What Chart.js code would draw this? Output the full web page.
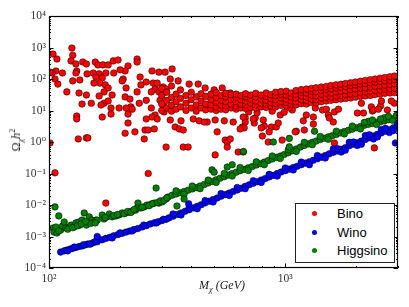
<!DOCTYPE html>
<html>
<head>
<meta charset="utf-8">
<script src="https://cdn.jsdelivr.net/npm/chart.js@4.4.1/dist/chart.umd.min.js"></script>
<style>
  body { margin: 0; background: #fff; }
  #wrap { position: relative; width: 409px; height: 307px; }
  .ttl { position: absolute; font-family: 'Liberation Serif', 'DejaVu Serif', serif; color: #222; white-space: nowrap; line-height: 1; }
  .ttl sub, .ttl sup { font-size: 70%; line-height: 0; }
  #xtitle { left: 222px; top: 285px; font-size: 12px; transform: translate(-50%, -50%); }
  #ytitle { left: 16px; top: 140px; font-size: 12px; transform: translate(-50%, -50%) rotate(-90deg); }
  #legend { position: absolute; left: 295px; top: 203px; width: 98px; height: 58px; border: 1px solid #222; background: #fff;
            font-family: 'Liberation Sans', Arial, sans-serif; font-size: 13px; color: #000; }
  #legend .row { position: absolute; left: 0; height: 16px; line-height: 16px; }
  #legend .dot { position: absolute; left: 16px; top: 5px; width: 5px; height: 5px; border-radius: 50%; }
  #legend .lbl { position: absolute; left: 41px; top: 0; }
</style>
</head>
<body>
<div id="wrap">
  <canvas id="chart"></canvas>
  <div class="ttl" id="xtitle"><i>M<sub>χ</sub></i> <i>(GeV)</i></div>
  <div class="ttl" id="ytitle">Ω<sub><i>χ</i></sub><i>h</i><sup>2</sup></div>
  <div id="legend"></div>
</div>
<script>
// ---- axis ticks ----
const xTickValues = [100, 1000];
const xTickLabels = ['10²', '10³'];
const yTickValues = [1e-4, 1e-3, 1e-2, 1e-1, 1, 10, 100, 1000, 10000];
const yTickLabels = ['10⁻⁴', '10⁻³', '10⁻²', '10⁻¹', '10⁰', '10¹', '10²', '10³', '10⁴'];

const seriesNames = ['Bino', 'Wino', 'Higgsino'];
const seriesColors = ['#ff0000', '#0000ff', '#008000'];

// ---- Bino: scattered points [mass GeV, omega h^2] ----
const binoScatter = [
  [104,620],[108,430],[125,960],[126,570],[124,375],[130,300],[139,345],[144,300],[157,345],[161,280],
  [169,280],[178,280],[187,375],[196,400],[236,430],[236,345],[216,260],[210,180],[200,195],[188,155],
  [174,155],[163,145],[154,155],[145,145],[131,180],[130,155],[114,155],[107,180],[103,155],[101,165],
  [106,100],[109,69],[126,87],[135,93],[158,115],[168,107],[164,74],[155,74],[173,65],[178,52],
  [171,39],[163,29],[185,31],[206,100],[204,87],[212,52],[210,27],[220,23],[236,39],[243,115],
  [245,65],[258,80],[273,180],[292,165],[310,165],[276,74],[287,74],[281,48],[304,56],[313,48],
  [271,39],[292,39],[304,36],[295,21],[307,13],[307,9],[281,7.2],[273,6.2],[287,5.4],[271,12],
  [258,21],[241,17],[222,13],[212,12],[225,11],[216,7.7],[198,12],[183,12],[171,17],[166,15],
  [178,20],[183,7.7],[168,6.2],[151,17],[138,16],[134,36],[144,31],[119,39],[131,6.7],[131,5.4],
  [216,4.0],[210,1.9],[231,2.1],[255,2.4],[263,2.4],[253,1.25],[279,2.6],[258,5.4],[133,1.25],[144,1.35],
  [146,1.35],[313,0.69],[101,0.93],[106,0.105],[174,0.0115],[263,0.1]
];
const binoOutliers = [
  [332,208],[326,100],[352,87],[392,69],[428,69],[458,52],[500,45],[541,52],[585,36],[677,33],
  [326,5.0],[362,4.7],[408,5.4],[432,4.7],[467,4.3],[505,5.0],[342,3.0],[356,2.6],[370,2.4],[515,2.1],
  [557,1.15],[568,1.0],[568,0.69],[370,0.69],[388,0.69],[677,5.8],[677,4.3],[746,5.8],[739,4.0],[658,3.0],
  [807,5.0],[815,3.2],[873,3.0],[916,3.0],[855,2.1],[800,1.55],[847,1.0],[970,1.15],[670,2.8],[644,2.6],
  [454,4.3],[552,4.7],[602,4.3],[732,5.4],[791,2.8],[934,4.0],[952,7.2],[664,6.2],[585,1.25],[632,0.48],
  [664,0.48],[505,0.39],[1113,2.2],[1614,0.93],[2019,8.3],[2142,8.3],[2382,0.65],[2529,13.8],[2705,10.4],[2897,17],
  [2337,9.6],[1071,10.4],[1102,2.1],[1204,2.4],[1192,4.7],[1227,7.2],[1315,6.2],[1315,3.7],[1340,12],[1436,10.4],
  [1493,11],[1521,7.2],[1536,5.8],[1597,4.3],[1614,9],[1679,11],[2100,17],[2313,13],[2360,10.4],[2477,11],
  [2553,20],[2812,20],[1040,12],[700,9],[760,8.5],[880,9.5],[990,8.8]
];
// ---- Bino: dense band, one mass column with its omega values ----
const binoBandMass = [300,315,330,345,360,380,400,420,440,460,485,510,535,560,590,620,650,680,715,750,
  790,830,870,910,960,1010,1060,1110,1170,1230,1290,1350,1420,1490,1560,1640,1720,1800,1890,1980,
  2080,2180,2290,2400,2520,2640,2770,2900];
const binoBandOmega = [
  [10,16,30,50],[12,21,38],[9.5,15,26,60],[11,19,33],[13,24,45],
  [10,17,30],[12,22,38],[9.5,15,27],[12,20,34],[10.5,16,28],
  [11,15,22,33],[10,13,18,26,37],[11,15,21,30],[10.5,14,19,27,35],[12,16,23,32],
  [11,14,19,26,33],[12,16,22,30],[11.5,15,20,27,34],[12.5,17,23,31],[12,15,20,27,35],
  [13,17,23,31],[12.5,16,21,28,36],[14,18,24,32],[13,17,22,30,38],[14.5,19,25,33,40],
  [14,18,23,31,41],[15.5,20,27,36],[15,19,25,33,43],[16.5,22,29,38,46],[16,21,27,36,48],
  [18,23,31,41,50],[17.5,22,29,39,53],[19,25,33,44,56],[20,26,35,47,58],[21,27,36,49,62],
  [22,29,39,52,65],[23,30,41,55,68],[24,32,43,58,72],[25,34,46,62,76],[26.5,35,48,65,80],
  [28,37,51,69,85],[29,39,53,72,90],[30,41,56,76,95],[32,43,59,80,100],[33,45,62,84,106],
  [35,47,65,88,112],[36,49,68,92,118],[37,51,71,97,124]
];

// ---- Wino ----
const winoPoints = [
  [112,3.2e-4],[116,3.5e-4],[119,3.7e-4],[123,4.0e-4],[126,4.2e-4],[130,4.5e-4],[134,4.8e-4],[138,5.0e-4],
  [142,5.4e-4],[146,5.8e-4],[151,6.0e-4],[155,6.5e-4],[160,6.8e-4],[120,3.5e-4],[128,4.6e-4],[140,5.5e-4],
  [149,5.7e-4],[158,7.0e-4],[160,1.0e-3],
  [168,7.9e-4],[174,8.7e-4],[181,9.5e-4],[188,1.05e-3],[196,1.15e-3],[204,1.26e-3],[212,1.38e-3],[220,1.5e-3],
  [229,1.66e-3],[238,1.8e-3],[248,2.0e-3],[258,2.2e-3],[268,2.5e-3],[279,2.7e-3],[290,2.95e-3],[301,3.2e-3],
  [313,3.5e-3],[322,3.9e-3],[185,9.0e-4],[200,1.3e-3],[225,1.5e-3],[252,2.3e-3],[285,2.7e-3],[305,3.5e-3],
  [335,4.4e-3],[349,5.0e-3],[362,5.6e-3],[377,6.3e-3],[392,7.1e-3],[408,8.1e-3],[424,9.1e-3],[441,0.0102],
  [458,0.0117],[476,0.0132],[495,0.0148],[515,0.0166],[535,0.019],[557,0.0214],[579,0.024],[602,0.0269],
  [626,0.030],[651,0.034],[677,0.039],[704,0.044],[732,0.049],[761,0.055],[791,0.062],[823,0.069],
  [855,0.078],[889,0.087],[925,0.10],[961,0.112],[1000,0.123],[1040,0.138],[1081,0.155],[1124,0.17],
  [1169,0.19],[1216,0.214],[1265,0.234],[1315,0.263],[1368,0.295],[1422,0.33],[1477,0.37],[1536,0.42],
  [1597,0.47],[1660,0.52],[1726,0.59],[1795,0.66],[1866,0.76],[1941,0.85],[2019,0.95],[2099,1.07],
  [2183,1.2],[2270,1.38],[2360,1.55],[2454,1.74],[2552,1.95],[2654,2.19],[2760,2.45],[2870,2.8],[2985,3.16],
  [335,5.2e-3],[362,4.8e-3],[392,8.3e-3],[424,7.6e-3],[458,0.0138],[495,0.0125],[535,0.023],[579,0.020],
  [626,0.036],[677,0.033],[732,0.059],[791,0.052],[855,0.094],[925,0.083],[1000,0.15],[1081,0.13],
  [1169,0.23],[1265,0.19],[1368,0.37],[1477,0.31],[1597,0.60],[1726,0.48],[1866,0.98],[2019,0.78],
  [2183,1.6],[2360,1.25],[2552,2.5],[2760,2.0],[2985,3.9],[2099,0.85],[2270,1.7],[2454,1.45],
  [2654,2.7],[2870,2.3],[1941,1.0],[1795,0.55],[1660,0.62],[390,0.011],[2925,0.93]
];

// ---- Higgsino ----
const higgsinoPoints = [
  [104,1.86e-3],[107,2.0e-3],[105,1.38e-3],[108,1.29e-3],[112,1.6e-3],[114,2.15e-3],[116,2.9e-3],[118,1.86e-3],
  [122,2.0e-3],[124,2.3e-3],[128,2.0e-3],[130,2.7e-3],[134,2.9e-3],[135,2.3e-3],[138,3.3e-3],[141,5.6e-3],
  [144,2.3e-3],[146,2.9e-3],[148,4.2e-3],[152,3.3e-3],[155,2.9e-3],[158,3.3e-3],[160,3.3e-3],[106,8.7e-3],
  [110,4.5e-3],[110,1.5e-3],[120,1.7e-3],[126,1.9e-3],[132,2.2e-3],[137,2.5e-3],[150,2.6e-3],[157,2.7e-3],[143,3.0e-3],
  [168,4.8e-3],[171,3.6e-3],[176,4.2e-3],[180,5.2e-3],[185,4.2e-3],[192,4.5e-3],[198,4.8e-3],[204,5.6e-3],
  [212,5.6e-3],[218,6.0e-3],[225,6.4e-3],[233,6.9e-3],[238,0.0115],[236,8.0e-3],[245,8.0e-3],[253,8.7e-3],
  [260,0.010],[271,0.0107],[279,0.0115],[284,0.0345],[292,0.0115],[301,0.0125],[313,0.0155],[319,0.0178],
  [173,4.0e-3],[188,4.6e-3],[195,5.0e-3],[208,5.3e-3],[215,6.2e-3],[222,5.8e-3],[229,7.2e-3],[248,8.5e-3],
  [265,9.5e-3],[275,0.011],[288,0.012],[296,0.0135],[307,0.014],[316,0.017],
  [332,0.0204],[345,0.0224],[359,0.0245],[373,0.0269],[388,0.0295],[404,0.0324],[420,0.0355],[436,0.040],
  [454,0.0447],[472,0.050],[491,0.056],[510,0.063],[530,0.071],[552,0.079],[573,0.089],[596,0.10],
  [620,0.11],[644,0.123],[670,0.135],[697,0.151],[725,0.166],[754,0.186],[784,0.204],[815,0.229],
  [847,0.257],[881,0.288],[916,0.324],[952,0.355],[990,0.40],[1030,0.457],[1071,0.525],[1113,0.60],
  [1158,0.69],[1204,0.78],[1251,0.87],[1301,0.98],[1353,1.07],[1406,1.2],[1462,1.32],[1521,1.45],
  [1581,1.58],[1644,1.74],[1710,1.95],[1778,2.14],[1849,2.34],[1923,2.57],[2000,2.82],[2080,3.09],
  [2162,3.39],[2248,3.63],[2338,3.89],[2431,4.17],[2528,4.37],[2627,4.68],[2732,5.13],[2840,5.5],[2953,5.9],
  [345,0.028],[373,0.022],[404,0.04],[436,0.033],[472,0.062],[510,0.052],[552,0.1],[596,0.083],
  [644,0.155],[697,0.125],[754,0.235],[815,0.19],[881,0.36],[952,0.30],[1030,0.57],[1113,0.50],
  [1204,0.98],[1301,0.82],[1406,1.5],[1521,1.22],[1644,2.2],[1778,1.8],[1923,3.2],[2080,2.6],
  [2248,4.5],[2431,3.6],[2627,5.9],[2840,4.9],[2953,7.0],[2338,5.0],[2732,6.5],[2162,4.2],[2528,5.4],
  [348,0.0093],[373,0.0155],[490,0.13],[500,0.11],[568,0.16],[596,0.19],[665,0.5],[890,1.0],
  [1040,1.3],[1040,0.7],[1330,2.2]
];

// build datasets
const toXY = arr => arr.map(p => ({ x: p[0], y: p[1] }));
const binoData = toXY(binoScatter.concat(binoOutliers));
binoBandMass.forEach((m, i) => binoBandOmega[i].forEach(o => binoData.push({ x: m, y: o })));

function pointSet(label, data, color, order) {
  return {
    label: label,
    data: data,
    backgroundColor: color,
    borderColor: 'rgba(0,0,0,0.85)',
    borderWidth: 0.6,
    pointRadius: 3.3,
    pointHoverRadius: 3.3,
    clip: 0,
    order: order
  };
}

// matplotlib-like frame with inward ticks on all four sides
const frameTicks = {
  id: 'frameTicks',
  afterDatasetsDraw(chart) {
    const { ctx, chartArea: a, scales: { x, y } } = chart;
    ctx.save();
    ctx.strokeStyle = '#000';
    ctx.lineWidth = 1;
    ctx.beginPath();
    for (let d = 100; d <= 1000; d *= 10) {
      for (let k = 1; k <= 9; k++) {
        const v = d * k;
        if (v < x.min || v > x.max) continue;
        const px = Math.round(x.getPixelForValue(v)) + 0.5;
        const len = k === 1 ? 4.5 : 2;
        ctx.moveTo(px, a.bottom); ctx.lineTo(px, a.bottom - len);
        ctx.moveTo(px, a.top); ctx.lineTo(px, a.top + len);
      }
    }
    yTickValues.forEach(d => {
      for (let k = 1; k <= 9; k++) {
        const v = d * k;
        if (v > y.max * 1.0001) continue;
        const py = Math.round(y.getPixelForValue(v)) + 0.5;
        const len = k === 1 ? 4.5 : 2;
        ctx.moveTo(a.left, py); ctx.lineTo(a.left + len, py);
        ctx.moveTo(a.right, py); ctx.lineTo(a.right - len, py);
      }
    });
    ctx.stroke();
    ctx.lineWidth = 1.2;
    ctx.strokeRect(a.left + 0.5, a.top + 0.5, a.right - a.left - 1, a.bottom - a.top - 1);
    ctx.restore();
  }
};

const tickFont = { family: "'Liberation Serif', 'DejaVu Serif', serif", size: 11.5 };

new Chart(document.getElementById('chart'), {
  type: 'scatter',
  data: {
    datasets: [
      pointSet(seriesNames[0], binoData, seriesColors[0], 3),
      pointSet(seriesNames[1], toXY(winoPoints), seriesColors[1], 2),
      pointSet(seriesNames[2], toXY(higgsinoPoints), seriesColors[2], 1)
    ]
  },
  options: {
    responsive: true,
    maintainAspectRatio: false,
    animation: false,
    events: [],
    layout: { padding: { left: 0, right: 11, top: 16, bottom: 0 } },
    plugins: { legend: { display: false }, tooltip: { enabled: false } },
    scales: {
      x: {
        type: 'logarithmic',
        min: 100, max: 3000,
        border: { display: false },
        grid: { display: false, drawTicks: false },
        afterBuildTicks: s => { s.ticks = xTickValues.map(v => ({ value: v })); },
        afterFit: s => { s.height = 39; },
        ticks: {
          autoSkip: false, maxRotation: 0, padding: 4, color: '#333', font: tickFont,
          callback: (v, i) => xTickLabels[i]
        }
      },
      y: {
        type: 'logarithmic',
        min: 1e-4, max: 1e4,
        border: { display: false },
        grid: { display: false, drawTicks: false },
        afterBuildTicks: s => { s.ticks = yTickValues.map(v => ({ value: v })); },
        afterFit: s => { s.width = 49; },
        ticks: {
          autoSkip: false, padding: 3, color: '#333', font: tickFont,
          callback: (v, i) => yTickLabels[i]
        }
      }
    }
  },
  plugins: [frameTicks]
});

// legend as html
const legend = document.getElementById('legend');
const rowTops = [2, 21, 39];
seriesNames.forEach((n, i) => {
  const row = document.createElement('div');
  row.className = 'row';
  row.style.top = rowTops[i] + 'px';
  row.innerHTML = '<span class="dot" style="background:' + seriesColors[i] + '"></span><span class="lbl">' + n + '</span>';
  legend.appendChild(row);
});
</script>
</body>
</html>
